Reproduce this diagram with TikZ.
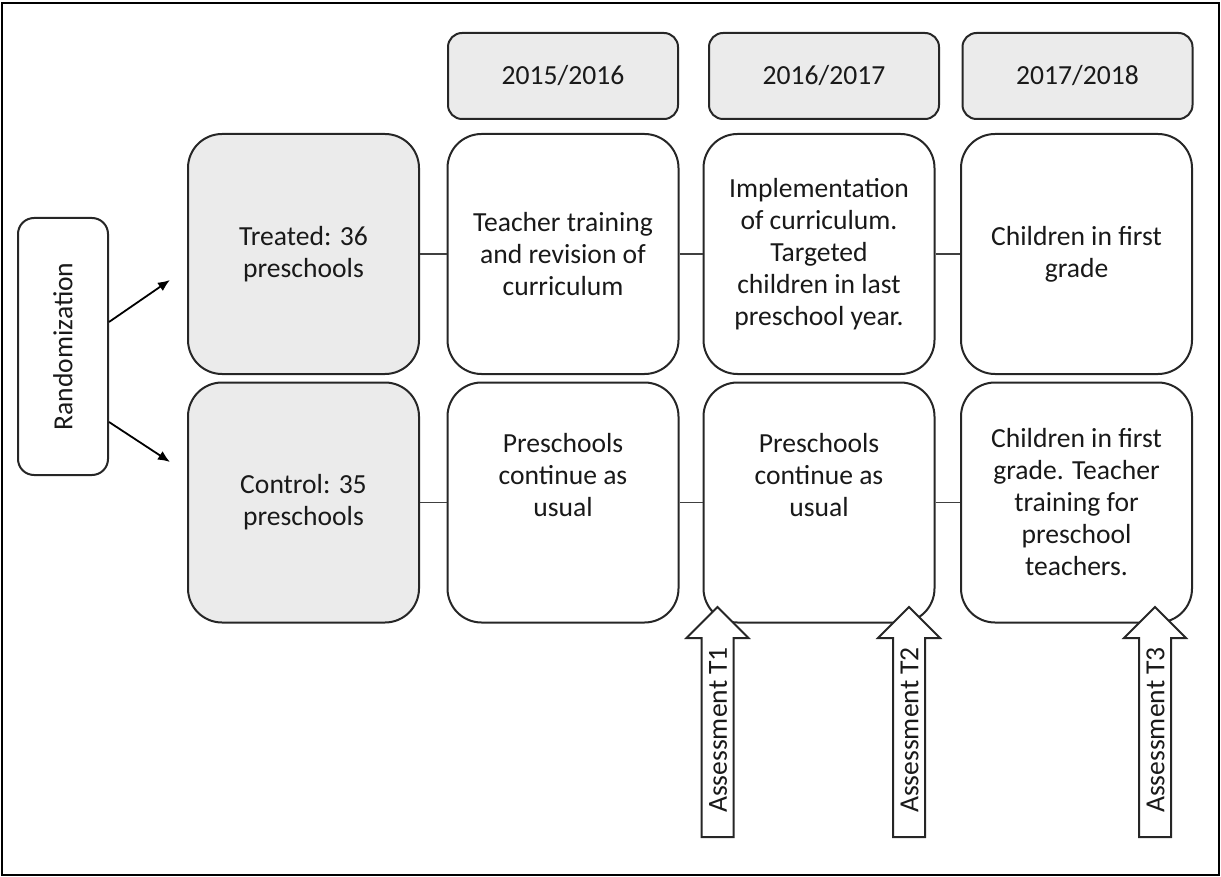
\documentclass[tikz,border=0pt]{standalone}
\usepackage{fontspec}
\setmainfont{Carlito}
\usetikzlibrary{shapes.arrows,positioning,calc,arrows.meta}

\begin{document}
\begin{tikzpicture}[x=0.5pt,y=-0.5pt,>={Latex[length=6pt,width=5pt]},thick,font=\fontsize{13.8}{16}\selectfont,
    every node/.style={align=center,text=black!90},
    box node/.style={draw=black!85,line width=1pt,rounded corners=17pt,minimum width=115.5pt,minimum height=120pt,inner sep=2pt},
    group node/.style={box node,fill=black!8},
    year node/.style={draw=black!85,line width=1pt,fill=black!8,rounded corners=7pt,minimum width=115pt,minimum height=43pt},
    rand node/.style={draw=black!85,line width=1pt,rounded corners=8pt,minimum width=45pt,minimum height=128.5pt},
    assess node/.style={draw=black!85,line width=1pt,fill=white,single arrow,single arrow head extend=7.5pt,single arrow tip angle=90,
        minimum height=115pt,text height=9.4pt,text depth=0pt,inner xsep=2pt,inner ysep=2.8pt,rotate=90,anchor=tail}]

    \useasboundingbox (0,0) rectangle (1221,877);
    \draw[line width=0.9pt] (2,3) rectangle (1219,875);

    % years
    \node[year node] (y1) at (563,76) {2015/2016};
    \node[year node] (y2) at (824,76) {2016/2017};
    \node[year node] (y3) at (1077.5,76) {2017/2018};

    % randomization and groups
    \node[rand node] (r) at (63,346.5) {\rotatebox{90}{Randomization}};
    \node[group node] (t) at (303.5,254) {Treated: 36\\preschools};
    \node[group node] (c) at (303.5,502.5) {Control: 35\\preschools};

    % treated row
    \node[box node] (t1) at (563,254) {Teacher training\\and revision of\\curriculum};
    \node[box node] (t2) at (819,254) {Implementation\\of curriculum.\\Targeted\\children in last\\preschool year.};
    \node[box node] (t3) at (1076.5,254) {Children in first\\grade};

    % control row
    \node[box node] (c1) at (563,502.5) {Preschools\\continue as\\usual\\[12pt]\mbox{}};
    \node[box node] (c2) at (819,502.5) {Preschools\\continue as\\usual\\[12pt]\mbox{}};
    \node[box node] (c3) at (1076.5,502.5) {Children in first\\grade. Teacher\\training for\\preschool\\teachers.};

    \coordinate (a) at (170,280);
    \coordinate (b) at (170,462);
    \draw[->,line width=0.9pt] ([yshift=12.25pt]r.east) -- (a);
    \draw[->,line width=0.9pt] ([yshift=-37.75pt]r.east) -- (b);

    \path[draw=black!75,line width=0.6pt]
        (t) edge (t1)
        (t1) edge (t2)
        (t2) edge (t3)
        (c) edge (c1)
        (c1) edge (c2)
        (c2) edge (c3)
    ;

    % assessments
    \node[assess node] (T1) at (717.5,838) {Assessment T1};
    \node[assess node] (T2) at (909,838) {Assessment T2};
    \node[assess node] (T3) at (1155,838) {Assessment T3};
\end{tikzpicture}
\end{document}
